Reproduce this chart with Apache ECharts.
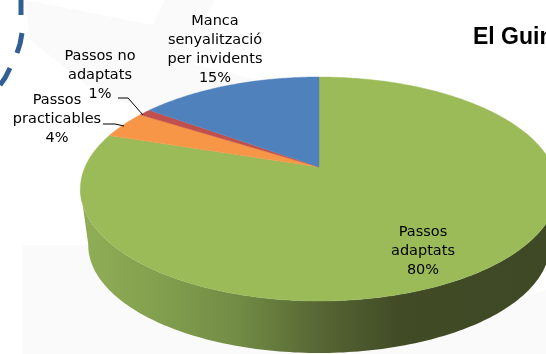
<!DOCTYPE html>
<html><head><meta charset="utf-8">
<style>html,body{margin:0;padding:0;background:#fff;overflow:hidden}#c{width:546px;height:354px}</style>
<script src="https://cdn.jsdelivr.net/npm/echarts@6/dist/echarts.min.js"></script>
</head><body><div id="c"></div>
<script>
const titleText = 'El Guin';
const categories = ['Passos\nadaptats', 'Passos\npracticables', 'Passos no\nadaptats', 'Manca\nsenyalització\nper invidents'];
const values = [80, 4, 1, 15];
const colors = ['#9bbb59', '#f79646', '#c0504d', '#4f81bd'];
const labelCentres = [[423, 251], [57, 119], [100, 75], [215, 49.5]];
const leaders = [null, [[103, 124], [115, 124], [124, 126]], [[118, 98], [128, 98], [143, 115]], null];

const total = values.reduce((a, b) => a + b, 0);
const cum = values.reduce((acc, v) => { acc.push(acc[acc.length - 1] + v); return acc; }, [0]);

// perspective projection of the pie disc
const CX = 319, K = 234, A = 74.9, B = 167, C = -0.1964;
function rimPoint(deg) {
  const r = deg * Math.PI / 180, x0 = Math.sin(r), u = -Math.cos(r), d = 1 + C * u;
  return [CX + K * x0 / d, (A * u + B) / d];
}
function lowPoint(p) { return [CX + (p[0] - CX) * 0.967, 245 + (p[1] - 189) * 0.964]; }
function rimArc(a, b) {
  const pts = [], n = Math.max(2, Math.ceil(Math.abs(b - a)));
  for (let i = 0; i <= n; i++) pts.push(rimPoint(a + (b - a) * i / n));
  return pts;
}
const wallGrad = new echarts.graphic.LinearGradient(85, 0, 560, 0, [
  { offset: 0, color: '#90ad56' }, { offset: 0.15, color: '#82a04e' }, { offset: 0.32, color: '#728c45' },
  { offset: 0.5, color: '#566533' }, { offset: 0.66, color: '#414c26' }, { offset: 1, color: '#3e4825' }
], true);

function renderSlice(params) {
  const i = params.dataIndex;
  const a = cum[i] / total * 360, b = cum[i + 1] / total * 360;
  const children = [];
  const wa = Math.max(a, 101), wb = Math.min(b, 259);
  if (wb > wa) {
    const f = rimArc(wa, wb);
    children.push({ type: 'polygon', shape: { points: f.concat(f.map(lowPoint).reverse()) },
      style: { fill: wallGrad } });
  }
  children.push({ type: 'polygon', shape: { points: [[CX, B]].concat(rimArc(a, b)) },
    style: { fill: colors[i], stroke: colors[i], lineWidth: 0.4 } });
  return { type: 'group', children };
}
function renderLabel(params) {
  const i = params.dataIndex, children = [];
  const pct = Math.round(values[i] / total * 100) + '%';
  children.push({ type: 'text', x: labelCentres[i][0], y: labelCentres[i][1],
    style: { text: categories[i] + '\n' + pct, align: 'center', verticalAlign: 'middle',
      font: '14.5px "DejaVu Sans"', lineHeight: 19, fill: '#000' } });
  if (leaders[i]) children.push({ type: 'polyline', shape: { points: leaders[i] },
    style: { stroke: '#000', lineWidth: 1, fill: 'none' } });
  return { type: 'group', children };
}
const wash = '#fafafa', ring = '#2f5f93';
const chart = echarts.init(document.getElementById('c'), null, { renderer: 'canvas' });
chart.setOption({
  animation: false,
  backgroundColor: '#fff',
  title: { text: titleText, left: 473, top: 26, padding: 0,
    textStyle: { fontFamily: 'Liberation Sans', fontWeight: 'bold', fontSize: 23, color: '#000' } },
  graphic: { elements: [
    { type: 'polygon', z: -10, silent: true, shape: { points: [[25, 0], [153, 25], [165, 0], [215, 0], [178, 60], [265, 82], [150, 110], [100, 95], [30, 40]] }, style: { fill: wash } },
    { type: 'polygon', z: -10, silent: true, shape: { points: [[22, 245], [90, 245], [300, 300], [520, 300], [546, 290], [546, 354], [22, 354]] }, style: { fill: wash } },
    { type: 'polyline', z: -9, silent: true, shape: { points: [[21, 0], [21, 15]] }, style: { stroke: ring, lineWidth: 5, fill: 'none' } },
    { type: 'polyline', z: -9, silent: true, shape: { points: [[22, 33], [20, 44], [17, 53]] }, style: { stroke: ring, lineWidth: 5, fill: 'none' } },
    { type: 'polyline', z: -9, silent: true, shape: { points: [[10, 68], [5, 78], [0, 85]] }, style: { stroke: ring, lineWidth: 5, fill: 'none' } }
  ] },
  series: [
    { type: 'custom', coordinateSystem: 'none', renderItem: renderSlice, data: values, z: 2, silent: true },
    { type: 'custom', coordinateSystem: 'none', renderItem: renderLabel, data: values, z: 3, silent: true }
  ]
});
</script></body></html>
